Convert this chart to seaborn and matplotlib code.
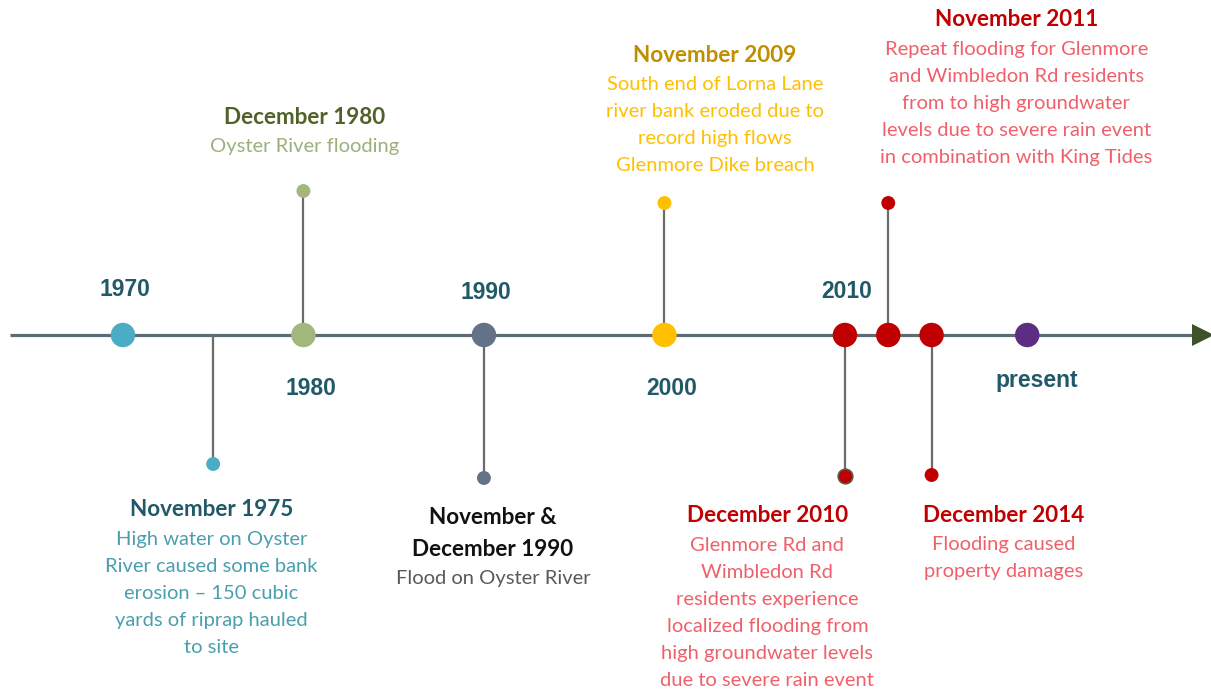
"""
Oyster River flooding timeline, recreated with seaborn/matplotlib.
"""
import matplotlib.pyplot as plt
import pandas as pd
import seaborn as sns

# ---- data -------------------------------------------------------------
# positions along the timeline (drawn in "year-like" units, not to scale)
milestone_labels = ["1970", "1980", "1990", "2000", "2010", "present"]
milestone_pos = [1970, 1980, 1990, 2000, 2010, 2020]

axis_dot_pos = [1970, 1980, 1990, 2000, 2010, 2012.4, 2014.8, 2020.1]
axis_dot_colors = ["#4bacc6", "#a3b77c", "#637286", "#ffc000",
                   "#c00000", "#c00000", "#c00000", "#5b2d83"]

event_titles = ["November 1975", "December 1980", "November &\nDecember 1990",
                "November 2009", "December 2010", "November 2011", "December 2014"]
event_pos = [1975, 1980, 1990, 2000, 2010, 2012.4, 2014.8]
event_stem = [-1.29, 1.44, -1.43, 1.32, -1.41, 1.32, -1.40]
event_desc = [
    ["High water on Oyster", "River caused some bank", "erosion \u2013 150 cubic",
     "yards of riprap hauled", "to site"],
    ["Oyster River flooding"],
    ["Flood on Oyster River"],
    ["South end of Lorna Lane", "river bank eroded due to", "record high flows",
     "Glenmore Dike breach"],
    ["Glenmore Rd and", "Wimbledon Rd", "residents experience",
     "localized flooding from", "high groundwater levels", "due to severe rain event"],
    ["Repeat flooding for Glenmore", "and Wimbledon Rd residents",
     "from to high groundwater", "levels due to severe rain event",
     "in combination with King Tides"],
    ["Flooding caused", "property damages"],
]

# ---- styles / layout ---------------------------------------------------
title_colors = ["#215968", "#4f6228", "#111111", "#bf8f00", "#c00000", "#c00000", "#c00000"]
desc_colors = ["#4a9fae", "#9bb07a", "#595959", "#ffc000", "#f0606a", "#f0606a", "#f0606a"]
dot_colors = ["#4bacc6", "#a3b77c", "#637286", "#ffc000", "#c00000", "#c00000", "#c00000"]
# (x of text block centre, y of first title line)
text_xy = [(1974.9, -1.75), (1980.05, 2.18), (1990.5, -1.83), (2002.8, 2.80),
           (2005.7, -1.81), (2019.5, 3.15), (2018.8, -1.80)]
milestone_y = [0.46, -0.53, 0.43, -0.53, 0.44, -0.45]

DECADE_COLOR = "#215968"
LINE_COLOR = "#5f6b73"
STEM_COLOR = "#6b6b6b"
LINE_STEP = 0.27
FONT = ["Lato", "DejaVu Sans"]

sns.set_theme(style="white")
plt.rcParams["font.family"] = FONT

fig = plt.figure(figsize=(12.11, 6.90), dpi=100)
ax = fig.add_axes([0, 0, 1, 1])
ax.set_xlim(1963.19, 2030.28)
ax.set_ylim(-3.55, 3.35)
ax.axis("off")

# main axis line with arrowhead
ax.plot([1963.75, 2029.5], [0, 0], color=LINE_COLOR, lw=2.3, zorder=1,
        solid_capstyle="butt")
ax.plot([2029.85], [0], marker=">", markersize=16, color="#3d5229",
        markeredgewidth=0, zorder=2)

# stems
ax.vlines(event_pos, 0, event_stem, color=STEM_COLOR, lw=1.6, zorder=1)

# stem-end dots
ends = pd.DataFrame({"x": event_pos, "y": event_stem, "c": dot_colors})
sns.scatterplot(data=ends, x="x", y="y", hue="c", palette=dict(zip(dot_colors, dot_colors)),
                s=100, linewidth=0, legend=False, ax=ax, zorder=3)
# the December 2010 end dot has a dark rim
ax.scatter([event_pos[4]], [event_stem[4]], s=110, facecolor="#c00000",
           edgecolor="#5a5a4a", linewidth=1.2, zorder=4)

# dots on the axis
axis_df = pd.DataFrame({"x": axis_dot_pos, "y": [0] * len(axis_dot_pos), "c": axis_dot_colors})
sns.scatterplot(data=axis_df, x="x", y="y", hue="c",
                palette=dict(zip(axis_dot_colors, axis_dot_colors)),
                s=310, linewidth=0, legend=False, ax=ax, zorder=5)

# decade labels
for lab, x, y in zip(milestone_labels, milestone_pos, milestone_y):
    dx = 0.4 if lab in ("1980", "2000") else (0.65 if lab == "present" else 0.1)
    ax.text(x + dx, y, lab, ha="center", va="center", fontsize=16.5,
            fontweight="bold", color=DECADE_COLOR, family="Liberation Sans")

# event text blocks
for title, desc, (tx, ty), tc, dc in zip(event_titles, event_desc, text_xy,
                                         title_colors, desc_colors):
    y = ty
    for line in title.split("\n"):
        ax.text(tx, y, line, ha="center", va="center", fontsize=16.2,
                fontweight="bold", color=tc)
        y -= 0.31
    y += 0.31 - 0.295
    for line in desc:
        ax.text(tx, y, line, ha="center", va="center", fontsize=14.5, color=dc)
        y -= LINE_STEP

fig.savefig("out.png", dpi=100)
